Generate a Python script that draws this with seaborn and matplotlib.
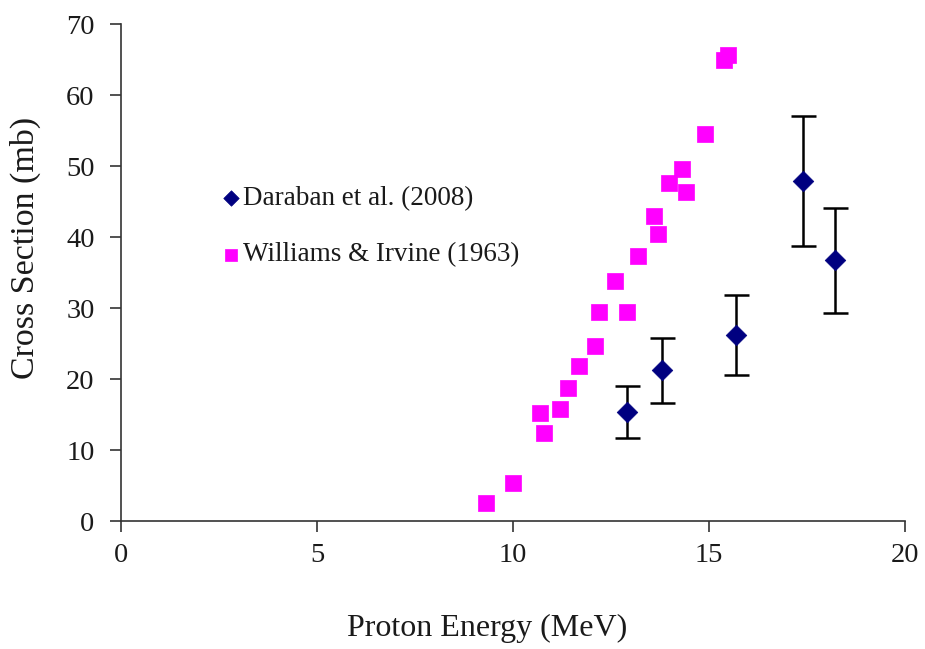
import matplotlib
matplotlib.use("Agg")
import matplotlib.pyplot as plt
import seaborn as sns
import pandas as pd

# Williams & Irvine (1963)
wi_energy = [9.31, 10.0, 10.69, 10.78, 11.2, 11.4, 11.69, 12.09, 12.19, 12.61,
             12.9, 13.2, 13.6, 13.69, 13.99, 14.32, 14.41, 14.9, 15.39, 15.49]
wi_xs = [2.6, 5.3, 15.25, 12.35, 15.8, 18.7, 21.9, 24.6, 29.5, 33.8,
         29.5, 37.3, 42.9, 40.4, 47.6, 49.6, 46.3, 54.5, 64.9, 65.6]

# Daraban et al. (2008)
da_energy = [12.9, 13.8, 15.69, 17.4, 18.21]
da_xs = [15.4, 21.2, 26.2, 47.9, 36.7]
da_err = [3.65, 4.6, 5.7, 9.15, 7.4]

sns.set_theme(style="white")
plt.rcParams['font.family'] = ['Liberation Serif', 'DejaVu Serif']

fig = plt.figure(figsize=(9.25, 6.49), dpi=100)
ax = fig.add_axes([0.1308, 0.1972, 0.8476, 0.7658])

df_wi = pd.DataFrame({"E": wi_energy, "XS": wi_xs})
df_da = pd.DataFrame({"E": da_energy, "XS": da_xs, "err": da_err})

ax.errorbar(df_da["E"], df_da["XS"], yerr=df_da["err"], fmt='none',
            ecolor='black', elinewidth=1.8, capsize=9, capthick=1.8, zorder=2)
sns.scatterplot(data=df_da, x="E", y="XS", marker="D", color="#000080",
                s=110, edgecolor="#000080", linewidth=0.5, ax=ax, zorder=3,
                label="Daraban et al. (2008)")
sns.scatterplot(data=df_wi, x="E", y="XS", marker="s", color="#FF00FF",
                s=135, edgecolor="#FF00FF", linewidth=0.5, ax=ax, zorder=3,
                label="Williams & Irvine (1963)")

ax.set_xlim(0, 20)
ax.set_ylim(0, 70)
ax.set_xticks([0, 5, 10, 15, 20])
ax.set_yticks(range(0, 71, 10))
ax.tick_params(axis='both', which='major', labelsize=20.5, direction='out',
               length=8, width=1.2, color='#333333', left=True, bottom=True,
               labelcolor='#1a1a1a')
ax.tick_params(axis='y', pad=11)
ax.tick_params(axis='x', pad=8)
for side in ['top', 'right']:
    ax.spines[side].set_visible(False)
for side in ['left', 'bottom']:
    ax.spines[side].set_color('#333333')
    ax.spines[side].set_linewidth(1.2)

ax.set_xlabel("Proton Energy (MeV)", fontsize=23, color='#1a1a1a')
ax.set_ylabel("Cross Section (mb)", fontsize=24.5, color='#1a1a1a')
ax.xaxis.set_label_coords(0.467, -0.186)
ax.yaxis.set_label_coords(-0.102, 0.549)

handles, labels = ax.get_legend_handles_labels()
leg = ax.legend(handles, labels, loc='upper left', bbox_to_anchor=(0.111, 0.695),
                frameon=False, fontsize=19.5, handletextpad=0.0,
                labelspacing=1.15, markerscale=0.75, handlelength=0.9,
                borderaxespad=0, labelcolor='#1a1a1a')

fig.savefig("out.png", dpi=100, facecolor='white')
